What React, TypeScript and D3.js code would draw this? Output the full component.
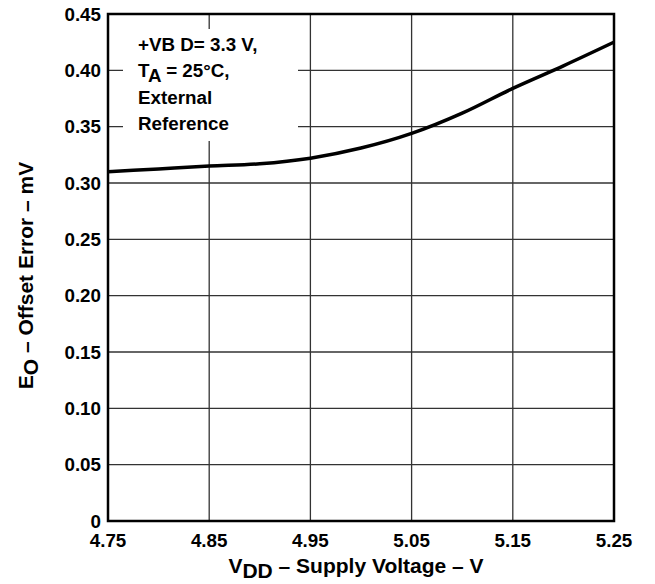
import React, { useEffect, useRef } from 'react';
import * as d3 from 'd3';

// supply voltage (V) vs offset error (mV)
const vdd = [4.75, 4.8, 4.85, 4.9, 4.95, 5.0, 5.05, 5.1, 5.15, 5.2, 5.25];
const offsetErr = [0.31, 0.3125, 0.315, 0.317, 0.322, 0.331, 0.344, 0.362, 0.384, 0.404, 0.425];
const xTicks = [4.75, 4.85, 4.95, 5.05, 5.15, 5.25];
const yTicks = [0, 0.05, 0.1, 0.15, 0.2, 0.25, 0.3, 0.35, 0.4, 0.45];

const FONT = '"Liberation Sans", Arial, sans-serif';
const FS = 18.8;
const TITLE_FS = 21;

const App = () => {
  const svgRef = useRef<SVGSVGElement>(null);

  useEffect(() => {
    const margin = { top: 14, right: 41, bottom: 63, left: 108 };
    const W = 655, H = 584;
    const width = W - margin.left - margin.right;
    const height = H - margin.top - margin.bottom;

    const root = d3.select(svgRef.current);
    root.selectAll('*').remove();
    const svg = root.append('g').attr('transform', `translate(${margin.left},${margin.top})`);

    const x = d3.scaleLinear().domain([4.75, 5.25]).range([0, width]);
    const y = d3.scaleLinear().domain([0, 0.45]).range([height, 0]);

    // grid
    svg.append('g').selectAll('line.v').data(xTicks.slice(1, -1)).enter().append('line')
      .attr('x1', d => x(d)).attr('x2', d => x(d)).attr('y1', 0).attr('y2', height)
      .attr('stroke', '#333').attr('stroke-width', 1.3);
    svg.append('g').selectAll('line.h').data(yTicks.slice(1, -1)).enter().append('line')
      .attr('x1', 0).attr('x2', width).attr('y1', d => y(d)).attr('y2', d => y(d))
      .attr('stroke', '#333').attr('stroke-width', 1.3);

    // annotation box covering grid
    svg.append('rect').attr('x', 15).attr('y', 15).attr('width', 175).attr('height', 112).attr('fill', '#fff');

    // curve
    const line = d3.line<number>()
      .x((_, i) => x(vdd[i]))
      .y(d => y(d))
      .curve(d3.curveMonotoneX);
    svg.append('path').datum(offsetErr).attr('d', line).attr('fill', 'none')
      .attr('stroke', '#000').attr('stroke-width', 3.5);

    // frame
    svg.append('rect').attr('width', width).attr('height', height)
      .attr('fill', 'none').attr('stroke', '#000').attr('stroke-width', 2.5);

    const txt = (g: any) => g.attr('font-family', FONT).attr('font-weight', 'bold')
      .attr('fill', '#000').attr('font-size', FS);

    // tick labels
    svg.append('g').selectAll('text').data(yTicks).enter().append('text')
      .call(txt)
      .attr('x', -7).attr('y', d => y(d)).attr('dy', '0.36em').attr('text-anchor', 'end')
      .text(d => (d === 0 ? '0' : d3.format('.2f')(d)));
    svg.append('g').selectAll('text').data(xTicks).enter().append('text')
      .call(txt)
      .attr('x', d => x(d)).attr('y', height + 26).attr('text-anchor', 'middle')
      .text(d => d3.format('.2f')(d));

    // x title
    const xt = svg.append('text').call(txt).attr('font-size', TITLE_FS)
      .attr('x', width / 2 - 5).attr('y', height + 52).attr('text-anchor', 'middle');
    xt.append('tspan').text('V');
    xt.append('tspan').attr('dy', 5).text('DD');
    xt.append('tspan').attr('dy', -5).text(' – Supply Voltage – V');

    // y title
    const yt = root.append('text').call(txt).attr('font-size', TITLE_FS)
      .attr('transform', `translate(33,${margin.top + height / 2 + 8}) rotate(-90)`)
      .attr('text-anchor', 'middle');
    yt.append('tspan').text('E');
    yt.append('tspan').attr('dy', 5).text('O');
    yt.append('tspan').attr('dy', -5).text(' – Offset Error – mV');

    // annotation
    const ann = svg.append('g').attr('transform', 'translate(30,0)');
    ann.append('text').call(txt).attr('y', 37).text('+VB D= 3.3 V,');
    const a2 = ann.append('text').call(txt).attr('y', 63);
    a2.append('tspan').text('T');
    a2.append('tspan').attr('dy', 5).text('A');
    a2.append('tspan').attr('dy', -5).text(' = 25°C,');
    ann.append('text').call(txt).attr('y', 90).text('External');
    ann.append('text').call(txt).attr('y', 116).text('Reference');
  }, []);

  return <svg ref={svgRef} width={655} height={584} style={{ position: 'absolute', left: 0, top: 0 }} />;
};

export default App;
